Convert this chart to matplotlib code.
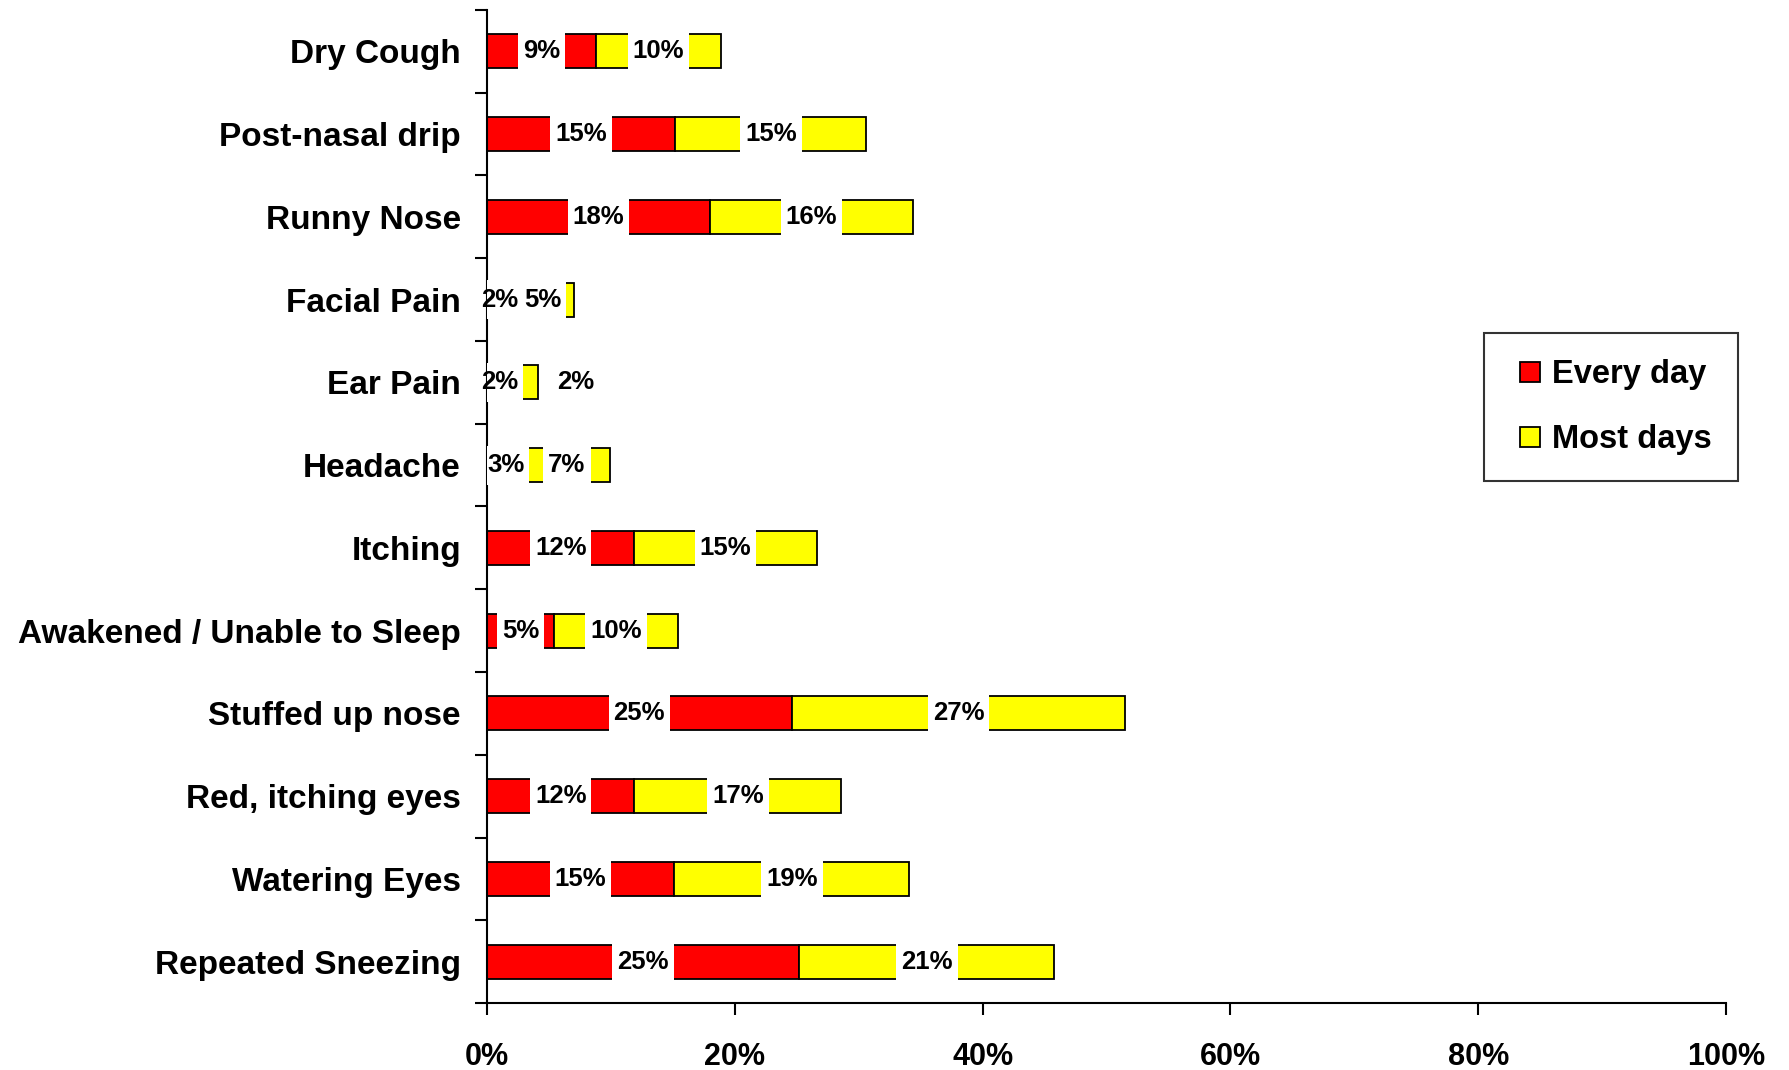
import matplotlib
matplotlib.use("Agg")
import matplotlib.pyplot as plt
from matplotlib.lines import Line2D
from matplotlib.patches import Rectangle
import numpy as np

# symptom categories, top to bottom as drawn
categories = [
    "Dry Cough", "Post-nasal drip", "Runny Nose", "Facial Pain", "Ear Pain",
    "Headache", "Itching", "Awakened / Unable to Sleep", "Stuffed up nose",
    "Red, itching eyes", "Watering Eyes", "Repeated Sneezing",
]
every_day = [8.8, 15.2, 18.0, 2.0, 2.0, 3.0, 11.9, 5.4, 24.6, 11.9, 15.1, 25.2]
most_days = [10.1, 15.4, 16.4, 5.0, 2.1, 6.9, 14.7, 10.0, 26.9, 16.7, 19.0, 20.6]
x_ticks = [0, 20, 40, 60, 80, 100]

RED = "#FF0000"
YELLOW = "#FFFF00"
FONT = "Liberation Sans"
NARROW = ["Liberation Sans Narrow", "Liberation Sans"]

fig = plt.figure(figsize=(17.89, 10.70), dpi=100)
ax = fig.add_axes([0.2722, 0.0626, 0.6926, 0.9281])

y = np.arange(len(categories))
bar_h = 0.41
ax.barh(y, every_day, height=bar_h, color=RED, edgecolor="black", linewidth=1.3, zorder=2)
ax.barh(y, most_days, left=every_day, height=bar_h, color=YELLOW, edgecolor="black",
        linewidth=1.3, zorder=2)

ax.set_xlim(0, 100)
ax.set_ylim(len(categories) - 0.5, -0.5)

# Excel-style data labels, centred on each segment
labels = []
for i in range(len(categories)):
    e, m = every_day[i], most_days[i]
    x2 = e + m / 2
    if categories[i] == "Ear Pain":
        x2 = 7.2  # Excel pushed this one out to avoid the first label
    for xc, v in [(e / 2, e), (x2, m)]:
        t = ax.text(xc, i, f"{v:.0f}%", ha="center", va="center", fontsize=18.5,
                    fontweight="bold", family=FONT, zorder=4)
        labels.append((t, i))

ax.set_xticks(x_ticks)
ax.set_xticklabels([f"{t}%" for t in x_ticks], fontsize=22, fontweight="bold", family=NARROW)

ax.set_yticks(y)
ax.set_yticklabels(categories, fontsize=24, fontweight="bold", family=FONT)
ax.set_yticks(np.arange(len(categories) + 1) - 0.5, minor=True)
ax.tick_params(axis="y", which="major", length=0, pad=18.7)
ax.tick_params(axis="y", which="minor", length=8.5, width=1.5, direction="out")
ax.tick_params(axis="x", which="major", length=8.5, width=1.5, direction="out", pad=19.5)

for side in ["top", "right"]:
    ax.spines[side].set_visible(False)
for side in ["left", "bottom"]:
    ax.spines[side].set_linewidth(1.5)

# white boxes behind the labels, tall enough to hide the bar edges
fig.canvas.draw()
renderer = fig.canvas.get_renderer()
inv = ax.transData.inverted()
for t, i in labels:
    bb = t.get_window_extent(renderer)
    x0 = inv.transform((bb.x0 - 5, 0))[0]
    x1 = inv.transform((bb.x1 + 5, 0))[0]
    ax.add_patch(Rectangle((x0, i - 0.235), x1 - x0, 0.47, facecolor="white",
                           edgecolor="none", zorder=3))

handles = [
    Line2D([], [], linestyle="none", marker="s", markersize=14, markerfacecolor=RED,
           markeredgecolor="black", markeredgewidth=1.3, label="Every day"),
    Line2D([], [], linestyle="none", marker="s", markersize=14, markerfacecolor=YELLOW,
           markeredgecolor="black", markeredgewidth=1.3, label="Most days"),
]
leg = ax.legend(handles=handles, loc="upper right", bbox_to_anchor=(0.9715, 0.6888),
                bbox_transform=fig.transFigure,
                prop={"family": FONT, "weight": "bold", "size": 23.5},
                frameon=True, fancybox=False, edgecolor="black", numpoints=1,
                handlelength=1.23, handletextpad=0.05, labelspacing=1.05, borderpad=0.8,
                borderaxespad=0)
leg.get_frame().set_linewidth(1.5)

fig.savefig("out.png", dpi=100)
